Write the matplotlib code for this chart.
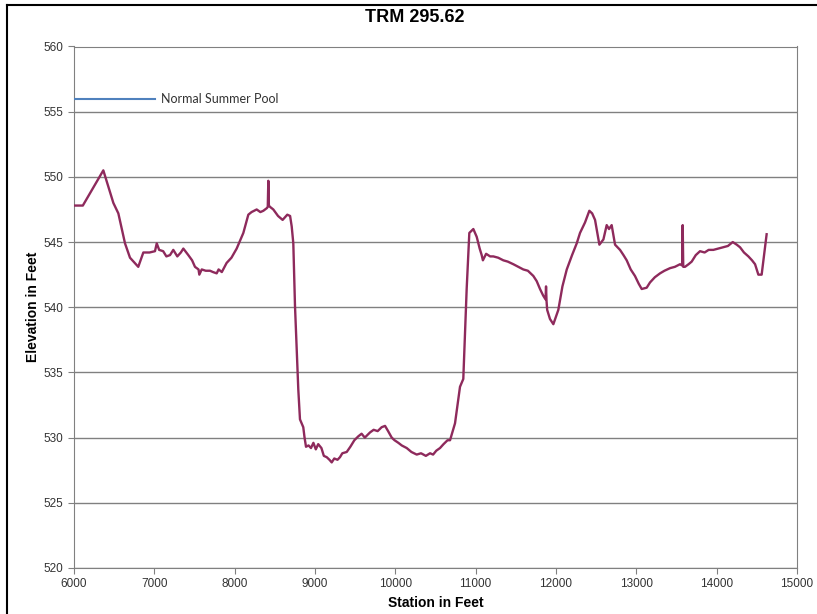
import matplotlib
matplotlib.use("Agg")
import matplotlib.pyplot as plt
from matplotlib.lines import Line2D

# profil (station en pieds, élévation en pieds)
station = [6000, 6110, 6365, 6490, 6552, 6635, 6697, 6800, 6863, 6940, 7008, 7030, 7060,
           7110, 7150, 7195, 7236, 7286, 7330, 7361, 7423, 7470, 7506, 7550, 7560, 7590,
           7640, 7693, 7730, 7776, 7800, 7840, 7900, 7960, 8025, 8108, 8170, 8210, 8274,
           8320, 8357, 8400, 8412, 8419, 8426, 8440, 8481, 8540, 8597, 8655, 8690, 8710,
           8730, 8751, 8792, 8813, 8854, 8870, 8888, 8920, 8950, 8980, 9010, 9040, 9080,
           9110, 9146, 9180, 9208, 9240, 9280, 9311, 9340, 9395, 9440, 9490, 9539, 9580,
           9620, 9685, 9730, 9780, 9830, 9872, 9910, 9955, 9990, 10038, 10080, 10142,
           10200, 10266, 10320, 10380, 10432, 10470, 10510, 10556, 10600, 10650, 10681,
           10743, 10805, 10846, 10888, 10921, 10971, 11013, 11050, 11075, 11090, 11130,
           11180, 11220, 11280, 11344, 11400, 11469, 11530, 11593, 11650, 11718, 11760,
           11801, 11840, 11870, 11876, 11882, 11890, 11925, 11967, 12029, 12080, 12134,
           12200, 12258, 12299, 12361, 12415, 12450, 12486, 12540, 12590, 12631, 12660,
           12693, 12735, 12797, 12840, 12880, 12930, 12983, 13030, 13067, 13129, 13170,
           13230, 13295, 13350, 13420, 13480, 13544, 13570, 13577, 13584, 13606, 13650,
           13689, 13740, 13793, 13850, 13900, 13959, 14020, 14083, 14140, 14200, 14250,
           14291, 14340, 14395, 14440, 14478, 14519, 14560, 14590, 14622]
elevation = [547.8, 547.8, 550.5, 548.0, 547.2, 544.9, 543.8, 543.1, 544.2, 544.2, 544.3, 544.9, 544.4,
             544.3, 543.9, 544.0, 544.4, 543.9, 544.2, 544.5, 544.0, 543.6, 543.1, 542.9, 542.5, 542.9,
             542.8, 542.8, 542.7, 542.6, 542.9, 542.7, 543.4, 543.8, 544.5, 545.7, 547.1, 547.3, 547.5,
             547.3, 547.4, 547.6, 547.7, 549.7, 547.8, 547.7, 547.5, 547.0, 546.7, 547.1, 547.0, 546.2,
             544.9, 540.1, 533.7, 531.4, 530.8, 530.0, 529.3, 529.4, 529.2, 529.6, 529.1, 529.5, 529.2,
             528.6, 528.5, 528.3, 528.1, 528.4, 528.3, 528.5, 528.8, 528.9, 529.3, 529.8, 530.1, 530.3,
             530.0, 530.4, 530.6, 530.5, 530.8, 530.9, 530.5, 530.0, 529.8, 529.6, 529.4, 529.2,
             528.9, 528.7, 528.8, 528.6, 528.8, 528.7, 529.0, 529.2, 529.5, 529.8, 529.8,
             531.1, 533.9, 534.5, 541.4, 545.7, 546.0, 545.4, 544.5, 544.0, 543.6, 544.1,
             543.9, 543.9, 543.8, 543.6, 543.5, 543.3, 543.1, 542.9, 542.8, 542.4, 542.0,
             541.4, 540.9, 540.6, 541.6, 540.5, 539.8, 539.1, 538.7, 539.8, 541.6, 542.9,
             544.0, 544.9, 545.7, 546.5, 547.4, 547.2, 546.7, 544.8, 545.2, 546.3, 546.0,
             546.3, 544.8, 544.4, 544.0, 543.6, 542.9, 542.4, 541.8, 541.4, 541.5, 541.9,
             542.3, 542.6, 542.8, 543.0, 543.1, 543.3, 543.2, 546.3, 543.1, 543.1, 543.3,
             543.5, 544.0, 544.3, 544.2, 544.4, 544.4, 544.5, 544.6, 544.7, 545.0, 544.8,
             544.6, 544.2, 543.9, 543.6, 543.3, 542.5, 542.5, 544.0, 545.6]

pool_station = [6000, 7010]
pool_elevation = [556.0, 556.0]

xticks = [6000, 7000, 8000, 9000, 10000, 11000, 12000, 13000, 14000, 15000]
yticks = [520, 525, 530, 535, 540, 545, 550, 555, 560]

plt.rcParams['font.family'] = ['Liberation Sans', 'DejaVu Sans']

fig = plt.figure(figsize=(8.17, 6.14), dpi=100)
ax = fig.add_axes([74 / 817, 46 / 614, 723 / 817, 521.5 / 614])

ax.plot(station, elevation, color='#8E2A5C', linewidth=1.7, zorder=3)
ax.plot(pool_station, pool_elevation, color='#4F81BD', linewidth=1.5, zorder=3)
ax.text(7085, 556.0, "Normal Summer Pool", fontsize=9, color='#333333',
        va='center', ha='left', family=['Lato', 'DejaVu Sans'])

ax.set_xlim(6000, 15000)
ax.set_ylim(520, 560)
ax.set_xticks(xticks)
ax.set_yticks(yticks)
ax.yaxis.grid(True, color='#808080', linewidth=1)
ax.set_axisbelow(True)
for s in ax.spines.values():
    s.set_color('#808080')
ax.tick_params(axis='both', colors='#808080', labelcolor='#333333', labelsize=8.5,
               length=4, direction='out')

ax.set_xlabel("Station in Feet", fontsize=10, fontweight='bold', labelpad=4)
ax.set_ylabel("Elevation in Feet", fontsize=10, fontweight='bold', labelpad=3)

fig.text(415 / 817, 1 - 18 / 614, "TRM 295.62", fontsize=13, fontweight='bold',
         ha='center', va='center')

# cadre du graphique (haut et gauche)
fig.add_artist(Line2D([7 / 817, 1], [1 - 5 / 614, 1 - 5 / 614], color='black', linewidth=1.5,
                      transform=fig.transFigure))
fig.add_artist(Line2D([7 / 817, 7 / 817], [0, 1 - 5 / 614], color='black', linewidth=1.5,
                      transform=fig.transFigure))

fig.savefig("out.png", dpi=100)
